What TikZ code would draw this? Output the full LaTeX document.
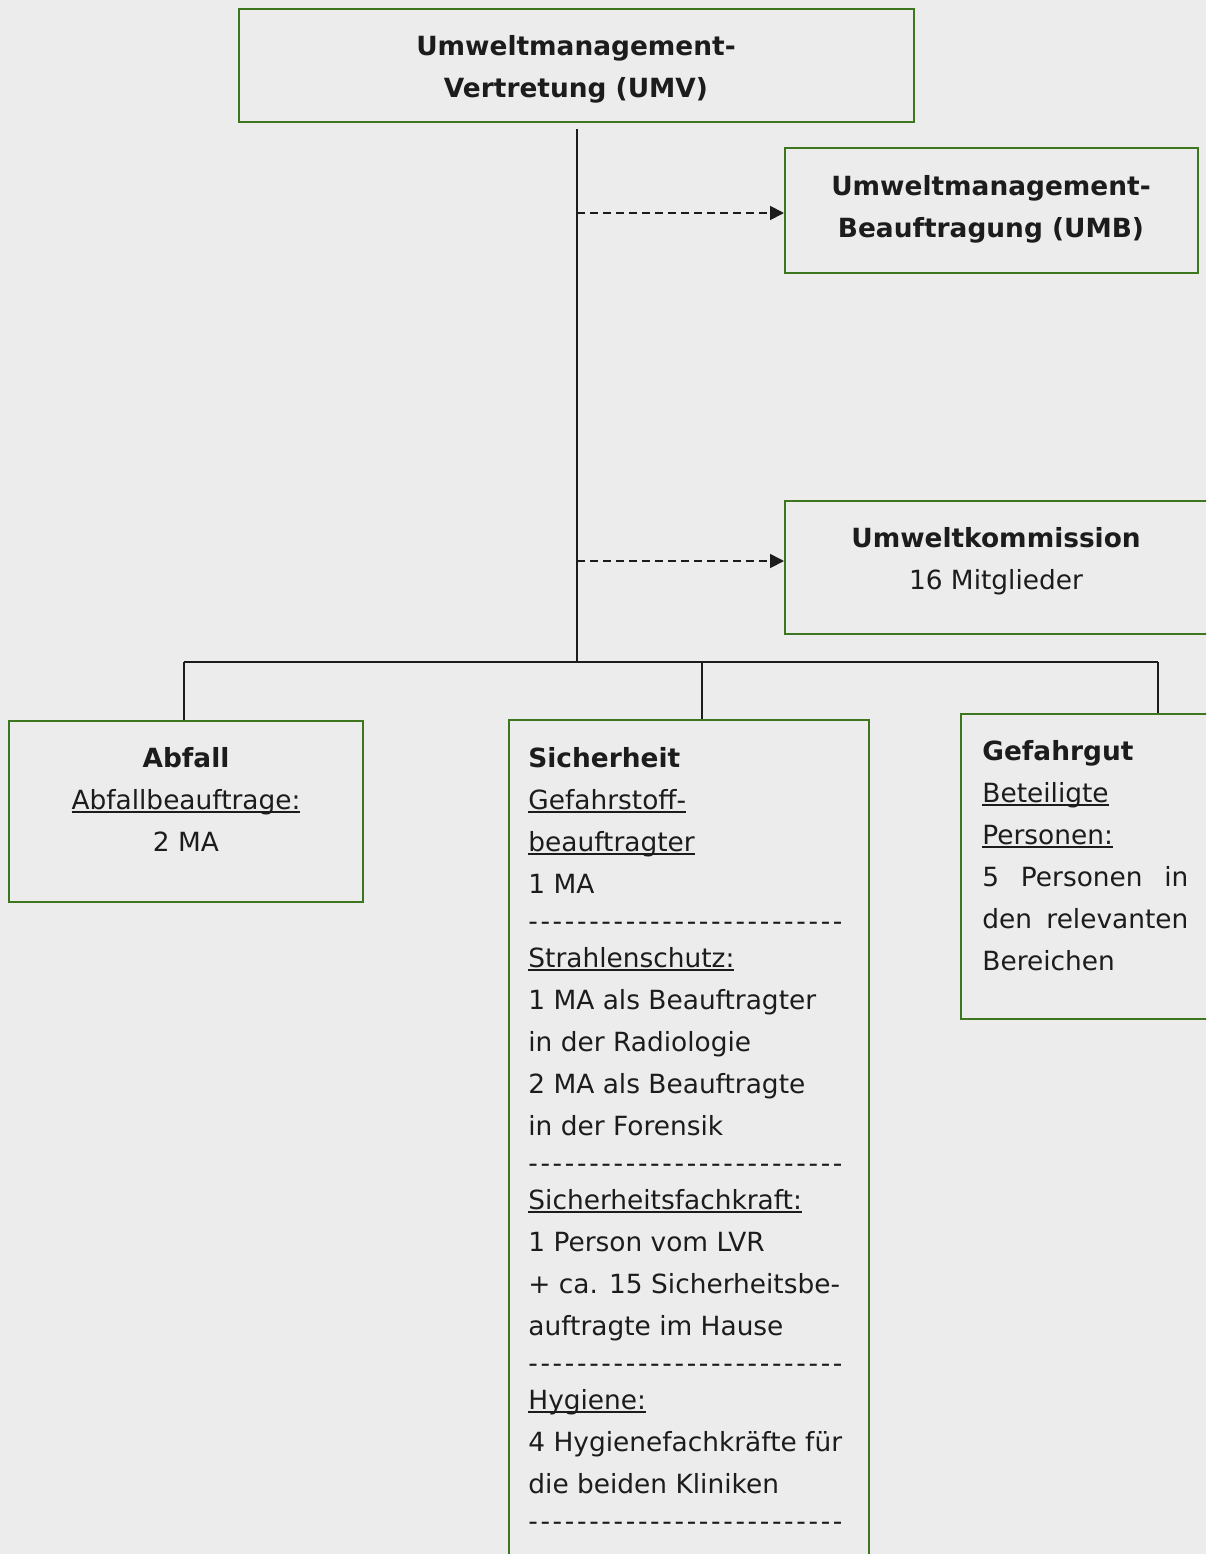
\documentclass[tikz,border=0pt]{standalone}
\usepackage{fontspec}
\setmainfont{DejaVu Sans}
\usetikzlibrary{arrows.meta}
\definecolor{bg}{RGB}{236,236,236}
\definecolor{boxgreen}{RGB}{62,118,32}
\definecolor{ink}{RGB}{28,28,28}
\newcommand{\myul}[1]{\setbox0\hbox{#1}\rlap{\vrule height -1.1pt depth 1.9pt width \wd0}\box0}
\newcommand{\dashrow}{\hbox to 157pt{-\hfil-\hfil-\hfil-\hfil-\hfil-\hfil-\hfil-\hfil-\hfil-\hfil-\hfil-\hfil-\hfil-\hfil-\hfil-\hfil-\hfil-\hfil-\hfil-\hfil-\hfil-\hfil-\hfil-\hfil-\hfil-}}
\begin{document}
\begin{tikzpicture}[x=0.5pt,y=-0.5pt,
  box/.style={draw=boxgreen, line width=1pt, inner sep=0pt},
  txt/.style={inner sep=0pt, font=\fontsize{13.2}{21}\selectfont, text=ink},
  conn/.style={draw=ink, line width=1pt},
  dasharrow/.style={draw=ink, line width=0.9pt, dash pattern=on 4pt off 2.5pt, -{Triangle[length=7pt,width=7pt]}}]
\fill[bg] (0,0) rectangle (1206,1554);
\useasboundingbox (0,0) rectangle (1206,1554);
\begin{scope}
\clip (0,0) rectangle (1206,1554);
% boxes
\node[box, minimum width=337.5pt, minimum height=56.5pt] (UMV) at (576.5,65.5) {};
\node[box, minimum width=206.5pt, minimum height=62.5pt] (UMB) at (991.5,210.5) {};
\node[box, minimum width=227.5pt, minimum height=66.5pt] (UK) at (1012.5,567.5) {};
\node[box, minimum width=177pt, minimum height=90.5pt] (AB) at (186,811.5) {};
\node[box, minimum width=180pt, minimum height=430pt] (SI) at (689,1150) {};
\node[box, minimum width=139.5pt, minimum height=152.5pt] (GG) at (1100.5,866.5) {};
% texts (anchor = baseline of last line)
\node[txt, font=\fontsize{13.2}{21}\selectfont\bfseries, align=center, anchor=base] (UMVt) at (576,97) {Umweltmanagement-\\Vertretung (UMV)};
\node[txt, font=\fontsize{13.2}{21}\selectfont\bfseries, align=center, anchor=base] (UMBt) at (991,237) {Umweltmanagement-\\Beauftragung (UMB)};
\node[txt, align=center, anchor=base] (UKt) at (996,589) {\textbf{Umweltkommission}\\16 Mitglieder};
\node[txt, align=center, anchor=base] (ABt) at (186,851) {\textbf{Abfall}\\\myul{Abfallbeauftrage:}\\2 MA};
\node[txt, align=left, anchor=base west] (SIt) at (528,1530) {\textbf{Sicherheit}\\
\myul{Gefahrstoff-}\\
\myul{beauftragter}\\
1 MA\\[-2.5pt]
\dashrow\\[-2.5pt]
\myul{Strahlenschutz:}\\
1 MA als Beauftragter\\
in der Radiologie\\
2 MA als Beauftragte\\
in der Forensik\\[-2.5pt]
\dashrow\\[-2.5pt]
\myul{Sicherheitsfachkraft:}\\
1 Person vom LVR\\
+ ca. 15 Sicherheitsbe-\\
auftragte im Hause\\[-2.5pt]
\dashrow\\[-2.5pt]
\myul{Hygiene:}\\
4 Hygienefachkräfte für\\
die beiden Kliniken\\[-2.5pt]
\dashrow};
\node[txt, align=left, anchor=base west] (GGt) at (982,970) {\textbf{Gefahrgut}\\
\myul{Beteiligte}\\
\myul{Personen:}\\
\hbox to 103pt{5\hfill Personen\hfill in}\\
\hbox to 103pt{den\hfill relevanten}\\
Bereichen};
\end{scope}
% connectors
\coordinate (J) at (577,662);
\coordinate (D1) at (577,213);
\coordinate (D2) at (577,561);
\coordinate (B1) at (184,662);
\coordinate (B2) at (702,662);
\coordinate (B3) at (1158,662);
\draw[conn] ([yshift=-3pt]UMV.south -| J) -- (J);
\draw[dasharrow] (D1) -- (D1 -| UMB.west);
\draw[dasharrow] (D2) -- (D2 -| UK.west);
\draw[conn] (B1) -- (B3);
\draw[conn] (B1) -- (B1 |- AB.north);
\draw[conn] (B2) -- (B2 |- SI.north);
\draw[conn] (B3) -- (B3 |- GG.north);
\end{tikzpicture}
\end{document}
